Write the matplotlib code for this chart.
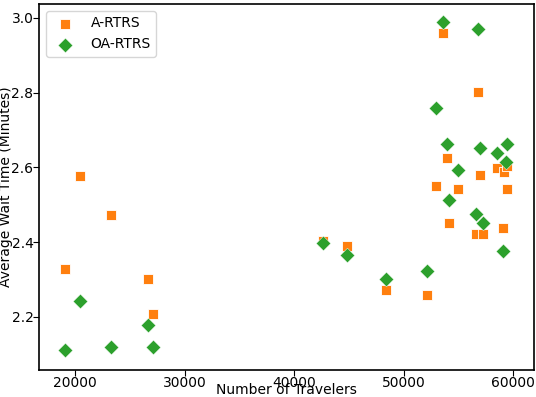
import matplotlib
matplotlib.use("Agg")
import matplotlib.pyplot as plt

# A-RTRS (orange squares)
a_travelers = [19087, 20457, 23288, 26667, 27123, 42676, 44868, 48429, 52174,
               52968, 53635, 53999, 54182, 55004, 56621, 56831, 57014, 57288,
               58566, 59114, 59205, 59479, 59452]
a_wait = [2.328, 2.577, 2.473, 2.301, 2.208, 2.404, 2.390, 2.271, 2.258,
          2.549, 2.959, 2.624, 2.450, 2.541, 2.421, 2.801, 2.580, 2.421,
          2.598, 2.437, 2.587, 2.541, 2.604]

# OA-RTRS (green diamonds)
oa_travelers = [19087, 20457, 23288, 26667, 27123, 42676, 44868, 48429, 52174,
                52968, 53635, 53999, 54182, 55004, 56621, 56831, 57014, 57288,
                58566, 59114, 59388, 59479]
oa_wait = [2.111, 2.242, 2.119, 2.178, 2.119, 2.397, 2.365, 2.300, 2.323,
           2.758, 2.990, 2.662, 2.512, 2.592, 2.474, 2.970, 2.651, 2.450,
           2.639, 2.375, 2.615, 2.663]

fig = plt.figure(figsize=(5.36, 3.97), dpi=100)
ax = fig.add_axes([0.0728, 0.068, 0.9235, 0.922])

ax.scatter(a_travelers, a_wait, marker="s", s=55, color="#ff7f0e",
           edgecolors="white", linewidths=0.6, label="A-RTRS")
ax.scatter(oa_travelers, oa_wait, marker="D", s=55, color="#2ca02c",
           edgecolors="white", linewidths=0.3, label="OA-RTRS")

ax.set_xlim(16712, 61918)
ax.set_ylim(2.0576, 3.037)
ax.set_xticks([20000, 30000, 40000, 50000, 60000])
ax.set_yticks([2.2, 2.4, 2.6, 2.8, 3.0])
ax.tick_params(axis="both", pad=0, length=4)
for sp in ax.spines.values():
    sp.set_linewidth(1.2)
ax.set_xlabel("Number of Travelers", labelpad=-4.5)
ax.set_ylabel("Average Wait Time (Minutes)", labelpad=-1)
ax.legend(loc="upper left")

fig.savefig("out.png", dpi=100)
